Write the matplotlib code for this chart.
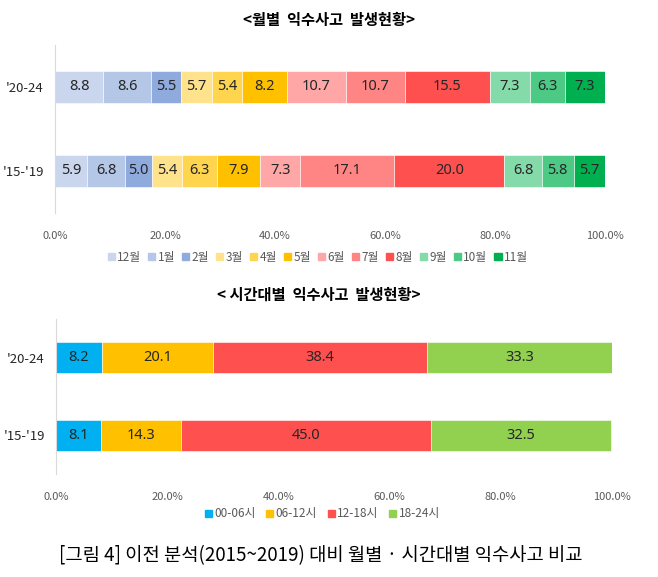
import matplotlib
matplotlib.use("Agg")
import matplotlib.pyplot as plt
from matplotlib.patches import Patch
from matplotlib.ticker import FuncFormatter

plt.rcParams['font.family'] = ['Noto Sans CJK KR', 'DejaVu Sans']

# Data
periods = ["'15-'19", "'20-24"]
months = ["12월", "1월", "2월", "3월", "4월", "5월", "6월", "7월", "8월", "9월", "10월", "11월"]
month_15_19 = [5.9, 6.8, 5.0, 5.4, 6.3, 7.9, 7.3, 17.1, 20.0, 6.8, 5.8, 5.7]
month_20_24 = [8.8, 8.6, 5.5, 5.7, 5.4, 8.2, 10.7, 10.7, 15.5, 7.3, 6.3, 7.3]
month_colors = ["#C9D6EE", "#B4C7E7", "#8FAADC", "#FFE38C", "#FFD44F", "#FFC000",
                "#FFA6A6", "#FF8585", "#FF5050", "#84DBA9", "#4CC985", "#00B050"]

hours = ["00-06시", "06-12시", "12-18시", "18-24시"]
hour_15_19 = [8.1, 14.3, 45.0, 32.5]
hour_20_24 = [8.2, 20.1, 38.4, 33.3]
hour_colors = ["#00B0F0", "#FFC000", "#FF5050", "#92D050"]

fig = plt.figure(figsize=(6.58, 5.77), dpi=100)

def stacked(ax, series, labels, colors, bar_h, fs):
    # series: list of per-period value lists, same order as periods
    lefts = [0.0] * len(periods)
    for k in range(len(labels)):
        vals = [s[k] for s in series]
        bars = ax.barh(range(len(periods)), vals, left=lefts, height=bar_h,
                       color=colors[k], edgecolor="white", linewidth=0.4, label=labels[k])
        for b, v in zip(bars, vals):
            ax.text(b.get_x() + b.get_width() / 2, b.get_y() + b.get_height() / 2,
                    f"{v:.1f}", ha="center", va="center", fontsize=fs, color="#262626",
                    family=["Noto Sans", "DejaVu Sans"])
        lefts = [l + v for l, v in zip(lefts, vals)]
    ax.set_xlim(0, 100)
    ax.set_ylim(-0.5, 1.5)
    ax.set_yticks(range(len(periods)), labels=periods)
    ax.set_xticks(range(0, 101, 20))
    ax.xaxis.set_major_formatter(FuncFormatter(lambda x, p: f"{x:.1f}%"))
    for side in ["top", "right", "bottom"]:
        ax.spines[side].set_visible(False)
    ax.spines["left"].set_color("#D9D9D9")
    ax.tick_params(length=0)
    ax.tick_params(axis="x", labelsize=8, labelcolor="#595959", pad=13)
    ax.tick_params(axis="y", labelsize=9.5, labelcolor="#262626", pad=8)

# Monthly chart
ax1 = fig.add_axes([55 / 658, 1 - 213 / 577, 550 / 658, 168 / 577])
stacked(ax1, [month_15_19, month_20_24], months, month_colors, 0.39, 10.5)
fig.text(0.5, 1 - 20 / 577, "<월별  익수사고  발생현황>", ha="center", va="center",
         fontsize=11, fontweight="bold")
h1 = [Patch(color=c, label=m) for c, m in zip(month_colors, months)]
fig.legend(handles=h1, loc="center", bbox_to_anchor=(0.483, 1 - 257 / 577), ncol=12,
           frameon=False, fontsize=8.5, labelcolor="#595959", handlelength=0.6,
           handleheight=0.6, handletextpad=0.2, columnspacing=0.6)

# Hourly chart
ax2 = fig.add_axes([56 / 658, 1 - 474 / 577, 556 / 658, 155 / 577])
stacked(ax2, [hour_15_19, hour_20_24], hours, hour_colors, 0.4, 10.5)
fig.text(0.485, 1 - 295 / 577, "< 시간대별  익수사고  발생현황>", ha="center", va="center",
         fontsize=11, fontweight="bold")
h2 = [Patch(color=c, label=h) for c, h in zip(hour_colors, hours)]
fig.legend(handles=h2, loc="center", bbox_to_anchor=(0.49, 1 - 514 / 577), ncol=4,
           frameon=False, fontsize=8.5, labelcolor="#595959", handlelength=0.6,
           handleheight=0.6, handletextpad=0.2, columnspacing=0.9)

fig.text(0.488, 1 - 556 / 577, "[그림 4] 이전 분석(2015~2019) 대비 월별 · 시간대별 익수사고 비교",
         ha="center", va="center", fontsize=13.5)

fig.savefig("out.png", dpi=100)
